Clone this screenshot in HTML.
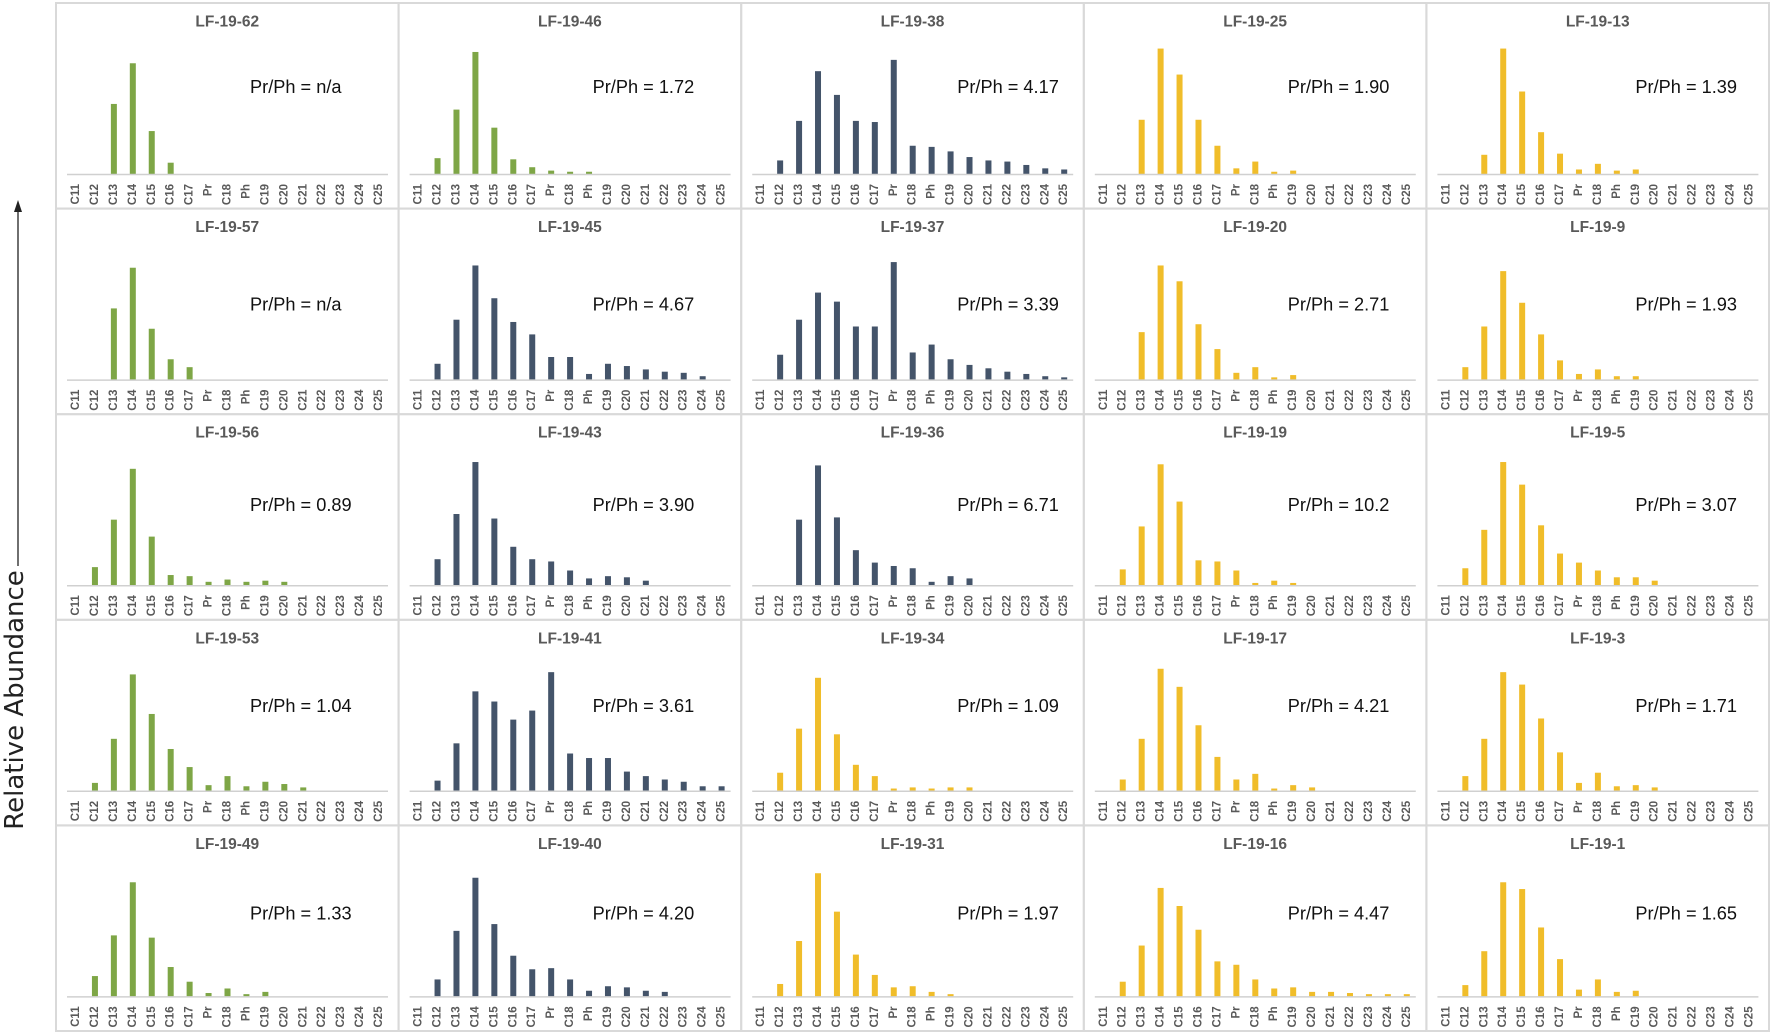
<!DOCTYPE html>
<html><head><meta charset="utf-8">
<style>
html,body{margin:0;padding:0;background:#fff;}
body{width:1772px;height:1034px;overflow:hidden;position:relative;font-family:"Liberation Sans",sans-serif;}
svg{position:absolute;left:0;top:0;}
</style></head>
<body>
<svg id="chart" width="1772" height="1034" viewBox="0 0 1772 1034" xmlns="http://www.w3.org/2000/svg">
  <g>
    <line x1="18" y1="566" x2="18" y2="209" stroke="#222" stroke-width="1.3"/>
    <polygon points="18,200 14,212 22,212" fill="#222"/>
    <text x="15" y="700" transform="rotate(-90 15 700)" text-anchor="middle" dominant-baseline="central" font-family="DejaVu Sans, Liberation Sans, sans-serif" font-size="26" fill="#222">Relative Abundance</text>
  </g>
  <g id="panels"></g>
</svg>
<script>
const categories = ["C11","C12","C13","C14","C15","C16","C17","Pr","C18","Ph","C19","C20","C21","C22","C23","C24","C25"];
const sampleNames = [
 ["LF-19-62","LF-19-46","LF-19-38","LF-19-25","LF-19-13"],
 ["LF-19-57","LF-19-45","LF-19-37","LF-19-20","LF-19-9"],
 ["LF-19-56","LF-19-43","LF-19-36","LF-19-19","LF-19-5"],
 ["LF-19-53","LF-19-41","LF-19-34","LF-19-17","LF-19-3"],
 ["LF-19-49","LF-19-40","LF-19-31","LF-19-16","LF-19-1"]
];
const ratioLabels = [
 ["n/a","1.72","4.17","1.90","1.39"],
 ["n/a","4.67","3.39","2.71","1.93"],
 ["0.89","3.90","6.71","10.2","3.07"],
 ["1.04","3.61","1.09","4.21","1.71"],
 ["1.33","4.20","1.97","4.47","1.65"]
];
const seriesGroup = [
 ["g","g","n","y","y"],
 ["g","n","n","y","y"],
 ["g","n","n","y","y"],
 ["g","n","y","y","y"],
 ["g","n","y","y","y"]
];
const row1 = [
 [0,0,62,98,38,10,0,0,0,0,0,0,0,0,0,0,0],
 [0,14,57,108,41,13,6,3,2,2,0,0,0,0,0,0,0],
 [0,12,47,91,70,47,46,101,25,24,20,15,12,11,8,5,4],
 [0,0,48,111,88,48,25,5,11,2,3,0,0,0,0,0,0],
 [0,0,17,111,73,37,18,4,9,3,4,0,0,0,0,0,0]
];
const row2 = [
 [0,0,63,99,45,18,11,0,0,0,0,0,0,0,0,0,0],
 [0,14,53,101,72,51,40,20,20,5,14,12,9,7,6,3,0],
 [0,22,53,77,69,47,47,104,24,31,18,13,10,7,5,3,2],
 [0,0,42,101,87,49,27,6,11,2,4,0,0,0,0,0,0],
 [0,11,47,96,68,40,17,5,9,3,3,0,0,0,0,0,0]
];
const row3 = [
 [0,16,58,103,43,9,8,3,5,3,4,3,0,0,0,0,0],
 [0,23,63,109,59,34,23,21,13,6,8,7,4,0,0,0,0],
 [0,0,58,106,60,31,20,17,15,3,8,6,0,0,0,0,0],
 [0,14,52,107,74,22,21,13,2,4,2,0,0,0,0,0,0],
 [0,15,49,109,89,53,28,20,13,7,7,4,0,0,0,0,0]
];
const row4 = [
 [0,7,46,103,68,37,21,5,13,4,8,6,3,0,0,0,0],
 [0,9,42,88,79,63,71,105,33,29,29,17,13,10,8,4,4],
 [0,16,55,100,50,23,13,2,3,2,3,3,0,0,0,0,0],
 [0,10,46,108,92,58,30,10,15,2,5,3,0,0,0,0,0],
 [0,13,46,105,94,64,34,7,16,4,5,3,0,0,0,0,0]
];
const row5 = [
 [0,18,54,101,52,26,13,3,7,2,4,0,0,0,0,0,0],
 [0,15,58,105,64,36,24,25,15,5,9,8,5,4,0,0,0],
 [0,11,49,109,75,37,19,8,9,4,2,0,0,0,0,0,0],
 [0,13,45,96,80,59,31,28,15,7,8,4,4,3,2,2,2],
 [0,10,40,101,95,61,33,6,15,4,5,0,0,0,0,0,0]
];
const allRows = [row1,row2,row3,row4,row5];
const colors = {g:"#7ea646", n:"#44546a", y:"#f0bd2a"};
const NS = "http://www.w3.org/2000/svg";
const X0 = 56, Y0 = 3, PW = 342.6, PH = 205.6;
const textX = [194,194,216,204,209];
const textY = [84,96,91,86,88];
function xScale(i){ return 20 + i * (303/16); }
function yScale(v){ return v * 1.13; }
const root = document.getElementById('panels');
function mk(tag, attrs){ const e=document.createElementNS(NS,tag); for(const k in attrs) e.setAttribute(k,attrs[k]); return e; }
for(let r=0;r<5;r++){
 for(let c=0;c<5;c++){
  const px = X0 + c*PW, py = Y0 + r*PH;
  const g = mk('g',{transform:`translate(${px},${py})`});
  
  
  const border = mk('rect',{x:0,y:0,width:PW,height:PH,fill:'none',stroke:'#d9d9d9','stroke-width':2});
  
  
  g.appendChild(border);
  const title = mk('text',{x:PW/2,y:19,'text-anchor':'middle','dominant-baseline':'central','font-size':15.5,'font-weight':'bold',fill:'#595959'});
  title.textContent = sampleNames[r][c];
  
  
  g.appendChild(title);
  const rt = mk('text',{x:textX[c],y:textY[r],'dominant-baseline':'central','font-size':18.2,fill:'#111'});
  rt.textContent = 'Pr/Ph = ' + ratioLabels[r][c];
  
  
  g.appendChild(rt);
  const base = 171;
  const vals = allRows[r][c];
  const col = colors[seriesGroup[r][c]];
  vals.forEach((v,i)=>{
   const h = yScale(v);
   if(h<=0) return;
   const b = mk('rect',{x:xScale(i)-3,y:base-h,width:6,height:h,fill:col});
   
   
   g.appendChild(b);
  });
  const ax = mk('line',{x1:11,y1:base+0.5,x2:332,y2:base+0.5,stroke:'#d0d0d0','stroke-width':1.5});
  
  
  g.appendChild(ax);
  categories.forEach((cat,i)=>{
   const x = xScale(i), y = 181;
   const t = mk('text',{x:x,y:y,transform:`rotate(-90 ${x} ${y})`,'text-anchor':'end','dominant-baseline':'central','font-size':11.5,'font-weight':'bold',fill:'#595959'});
   t.textContent = cat;
   
   
   g.appendChild(t);
  });
  root.appendChild(g);
 }
}
</script>
</body></html>
